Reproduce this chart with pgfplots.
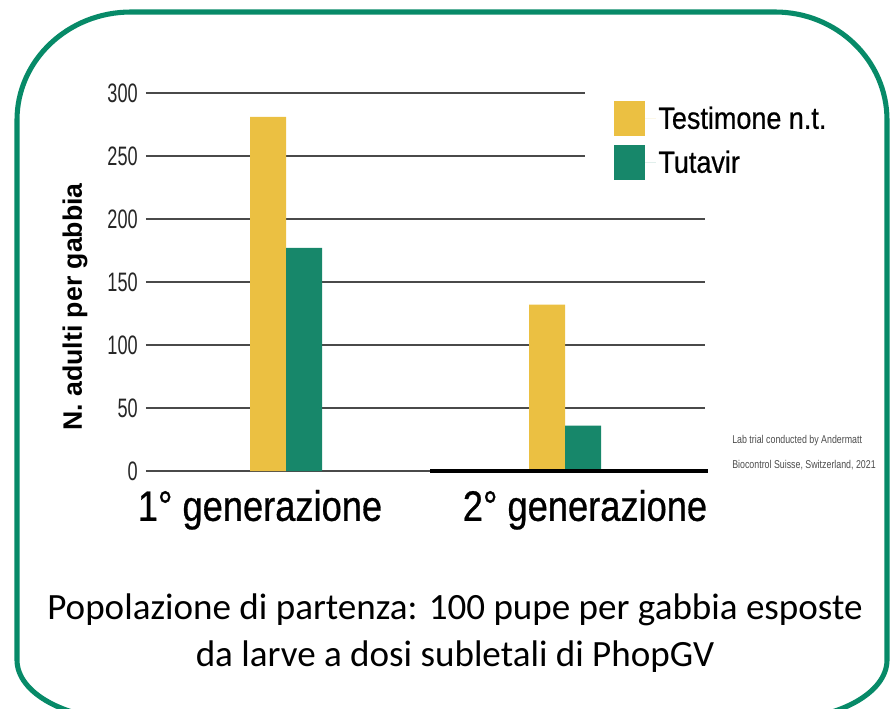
\documentclass[border=0pt]{standalone}
\usepackage{pgfplots}
\pgfplotsset{compat=1.18}
\usepackage{fontspec}
\setmainfont{Liberation Sans}
\newfontfamily\tickfont[FakeStretch=0.68]{Liberation Sans}
\newfontfamily\catfont[FakeStretch=0.85,FakeBold=0.6]{Liberation Sans}
\newfontfamily\legfont[FakeStretch=0.88,FakeBold=0.6]{Liberation Sans}
\newfontfamily\notefont[FakeStretch=0.78]{Liberation Sans}
\newfontfamily\capfont{Carlito}
\definecolor{tyellow}{HTML}{EBC042}
\definecolor{tgreen}{HTML}{17876A}
\definecolor{bgreen}{HTML}{078A68}
\definecolor{gridc}{HTML}{4A4A4A}
\begin{document}
\begin{tikzpicture}
\useasboundingbox (0,0) rectangle (672pt,531pt);
\clip (0,0) rectangle (672pt,531pt);
\begin{scope}[x=0.75pt,y=-0.75pt,yshift=531pt]
% border
\draw[bgreen, line width=3.8pt]
  (17,300) -- (17,120) arc[start angle=180,end angle=270,x radius=114,y radius=108]
  -- (775,12) arc[start angle=270,end angle=360,x radius=112,y radius=108]
  -- (887,660) arc[start angle=0,end angle=90,x radius=110,y radius=60]
  -- (127,720) arc[start angle=90,end angle=180,x radius=110,y radius=60] -- cycle;
\end{scope}
\begin{axis}[
  at={(109.5pt,177.75pt)}, anchor=south west,
  scale only axis, width=419.25pt, height=283.5pt,
  xmin=0, xmax=559, ymin=0, ymax=300,
  clip=false,
  axis line style={draw=none},
  major tick length=0pt,
  ytick={0,50,100,150,200,250,300},
  ymajorgrids,
  grid style={line width=1.4pt, color=gridc},
  xtick={114,439},
  xticklabels={1° generazione, 2° generazione},
  yticklabel style={font=\tickfont\fontsize{20pt}{24pt}\selectfont, text=black!85, inner sep=0pt, xshift=-6pt, /pgf/number format/assume math mode=true},
  xticklabel style={font=\catfont\fontsize{32pt}{36pt}\selectfont, inner sep=0pt, yshift=-14pt},
  ylabel={N. adulti per gabbia},
  every axis y label/.style={at={(axis description cs:-0.127,0.434)}, rotate=90, anchor=center, font=\bfseries\fontsize{20pt}{24pt}\selectfont},
  ybar, bar width=27pt,
  legend image code/.code={\path (0pt,0pt) -- (31pt,0pt); \fill[#1] (0pt,-13pt) rectangle (23pt,13pt);},
  legend style={at={(axis description cs:0.785,1.021)}, anchor=north west, draw=none, fill=white,
    font=\legfont\fontsize{23pt}{26pt}\selectfont, inner xsep=22pt, inner ysep=12pt, row sep=7pt},
  legend cell align=left,
]
\addplot[fill=tyellow, draw=none, bar shift=-13.5pt] coordinates {(140,281) (419,132)};
\addplot[fill=tgreen, draw=none, bar shift=13.5pt] coordinates {(140,177) (419,36)};
\legend{Testimone n.t., Tutavir}
\draw[black, line width=2.6pt] (axis cs:284,0) -- (axis cs:562,0);
\end{axis}
\begin{scope}[x=0.75pt,y=-0.75pt,yshift=531pt]
\node[anchor=west, text=black!70, font=\notefont\fontsize{8.5pt}{10pt}\selectfont, inner sep=0pt] at (732,441) {Lab trial conducted by Andermatt};
\node[anchor=west, text=black!70, font=\notefont\fontsize{8.5pt}{10pt}\selectfont, inner sep=0pt] at (732,465) {Biocontrol Suisse, Switzerland, 2021};
\node[anchor=base, font=\capfont\fontsize{27.8pt}{30pt}\selectfont, inner sep=0pt] at (455,619) {Popolazione di partenza: 100 pupe per gabbia esposte};
\node[anchor=base, font=\capfont\fontsize{27.8pt}{30pt}\selectfont, inner sep=0pt] at (455,666) {da larve a dosi subletali di PhopGV};
\end{scope}
\end{tikzpicture}
\end{document}
